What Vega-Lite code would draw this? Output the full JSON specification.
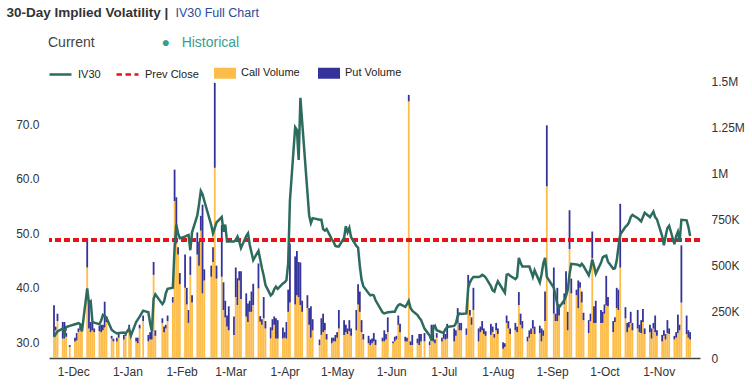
{
  "$schema": "https://vega.github.io/schema/vega-lite/v6.json",
  "width": 651,
  "height": 277,
  "autosize": "none",
  "padding": {"left": 49, "top": 81, "right": 52, "bottom": 28},
  "background": "white",
  "config": {"view": {"stroke": null}, "font": "Liberation Sans"},
  "title": {"text": "Current", "anchor": "start", "dx": 42, "dy": 45, "offset": 0, "font": "Liberation Sans", "fontSize": 14, "fontWeight": "normal", "color": "#444444"},
  "data": {"values": [
    {"d":"2024-11-20","iv":31.0,"Call Volume":115000,"Put Volume":170000},
    {"d":"2024-11-21","iv":31.5,"Call Volume":150000,"Put Volume":20000},
    {"d":"2024-11-22","iv":32.0,"Call Volume":200000,"Put Volume":40000},
    {"d":"2024-11-25","iv":32.5,"Call Volume":105000,"Put Volume":90000},
    {"d":"2024-11-26","iv":31.6,"Call Volume":105000,"Put Volume":90000},
    {"d":"2024-11-27","iv":32.8,"Call Volume":115000,"Put Volume":20000},
    {"d":"2024-11-29","iv":33.0,"Call Volume":60000,"Put Volume":10000},
    {"d":"2024-12-02","iv":33.3,"Call Volume":90000,"Put Volume":20000},
    {"d":"2024-12-03","iv":33.4,"Call Volume":95000,"Put Volume":40000},
    {"d":"2024-12-04","iv":33.5,"Call Volume":140000,"Put Volume":20000},
    {"d":"2024-12-05","iv":33.3,"Call Volume":150000,"Put Volume":25000},
    {"d":"2024-12-06","iv":32.0,"Call Volume":155000,"Put Volume":30000},
    {"d":"2024-12-09","iv":39.9,"Call Volume":490000,"Put Volume":150000},
    {"d":"2024-12-10","iv":37.2,"Call Volume":160000,"Put Volume":150000},
    {"d":"2024-12-11","iv":37.5,"Call Volume":140000,"Put Volume":55000},
    {"d":"2024-12-12","iv":33.7,"Call Volume":150000,"Put Volume":40000},
    {"d":"2024-12-13","iv":33.6,"Call Volume":140000,"Put Volume":20000},
    {"d":"2024-12-16","iv":33.3,"Call Volume":145000,"Put Volume":30000},
    {"d":"2024-12-17","iv":34.0,"Call Volume":140000,"Put Volume":40000},
    {"d":"2024-12-18","iv":35.0,"Call Volume":150000,"Put Volume":30000},
    {"d":"2024-12-19","iv":34.8,"Call Volume":165000,"Put Volume":140000},
    {"d":"2024-12-20","iv":34.5,"Call Volume":195000,"Put Volume":30000},
    {"d":"2024-12-23","iv":32.3,"Call Volume":105000,"Put Volume":15000},
    {"d":"2024-12-24","iv":32.0,"Call Volume":90000,"Put Volume":15000},
    {"d":"2024-12-26","iv":31.6,"Call Volume":90000,"Put Volume":20000},
    {"d":"2024-12-27","iv":31.7,"Call Volume":110000,"Put Volume":30000},
    {"d":"2024-12-30","iv":31.8,"Call Volume":100000,"Put Volume":25000},
    {"d":"2024-12-31","iv":31.6,"Call Volume":120000,"Put Volume":20000},
    {"d":"2025-01-02","iv":32.5,"Call Volume":150000,"Put Volume":30000},
    {"d":"2025-01-03","iv":31.2,"Call Volume":130000,"Put Volume":10000},
    {"d":"2025-01-06","iv":33.7,"Call Volume":90000,"Put Volume":20000},
    {"d":"2025-01-07","iv":34.2,"Call Volume":80000,"Put Volume":30000},
    {"d":"2025-01-08","iv":34.7,"Call Volume":160000,"Put Volume":20000},
    {"d":"2025-01-10","iv":35.8,"Call Volume":200000,"Put Volume":30000},
    {"d":"2025-01-13","iv":35.5,"Call Volume":90000,"Put Volume":35000},
    {"d":"2025-01-14","iv":33.5,"Call Volume":100000,"Put Volume":40000},
    {"d":"2025-01-15","iv":32.0,"Call Volume":100000,"Put Volume":80000},
    {"d":"2025-01-16","iv":38.0,"Call Volume":450000,"Put Volume":70000},
    {"d":"2025-01-17","iv":38.8,"Call Volume":120000,"Put Volume":30000},
    {"d":"2025-01-21","iv":37.0,"Call Volume":190000,"Put Volume":25000},
    {"d":"2025-01-22","iv":37.5,"Call Volume":140000,"Put Volume":30000},
    {"d":"2025-01-23","iv":39.0,"Call Volume":160000,"Put Volume":20000},
    {"d":"2025-01-24","iv":39.8,"Call Volume":200000,"Put Volume":30000},
    {"d":"2025-01-27","iv":40.0,"Call Volume":300000,"Put Volume":30000},
    {"d":"2025-01-28","iv":47.3,"Call Volume":850000,"Put Volume":170000},
    {"d":"2025-01-29","iv":51.6,"Call Volume":620000,"Put Volume":250000},
    {"d":"2025-01-30","iv":50.0,"Call Volume":560000,"Put Volume":40000},
    {"d":"2025-01-31","iv":49.1,"Call Volume":400000,"Put Volume":60000},
    {"d":"2025-02-03","iv":49.4,"Call Volume":380000,"Put Volume":180000},
    {"d":"2025-02-04","iv":49.6,"Call Volume":290000,"Put Volume":90000},
    {"d":"2025-02-05","iv":49.7,"Call Volume":190000,"Put Volume":70000},
    {"d":"2025-02-06","iv":46.9,"Call Volume":450000,"Put Volume":100000},
    {"d":"2025-02-07","iv":50.2,"Call Volume":300000,"Put Volume":40000},
    {"d":"2025-02-10","iv":53.3,"Call Volume":560000,"Put Volume":120000},
    {"d":"2025-02-11","iv":55.4,"Call Volume":500000,"Put Volume":130000},
    {"d":"2025-02-12","iv":57.8,"Call Volume":690000,"Put Volume":80000},
    {"d":"2025-02-13","iv":57.2,"Call Volume":350000,"Put Volume":480000},
    {"d":"2025-02-14","iv":56.0,"Call Volume":420000,"Put Volume":60000},
    {"d":"2025-02-18","iv":51.5,"Call Volume":440000,"Put Volume":60000},
    {"d":"2025-02-19","iv":50.0,"Call Volume":520000,"Put Volume":80000},
    {"d":"2025-02-20","iv":51.0,"Call Volume":1030000,"Put Volume":460000},
    {"d":"2025-02-21","iv":52.0,"Call Volume":430000,"Put Volume":70000},
    {"d":"2025-02-24","iv":53.0,"Call Volume":440000,"Put Volume":280000},
    {"d":"2025-02-25","iv":50.3,"Call Volume":260000,"Put Volume":150000},
    {"d":"2025-02-26","iv":51.6,"Call Volume":220000,"Put Volume":90000},
    {"d":"2025-02-27","iv":48.5,"Call Volume":170000,"Put Volume":60000},
    {"d":"2025-02-28","iv":48.5,"Call Volume":150000,"Put Volume":130000},
    {"d":"2025-03-03","iv":48.5,"Call Volume":125000,"Put Volume":100000},
    {"d":"2025-03-04","iv":48.8,"Call Volume":330000,"Put Volume":160000},
    {"d":"2025-03-05","iv":49.4,"Call Volume":287000,"Put Volume":145000},
    {"d":"2025-03-06","iv":48.5,"Call Volume":420000,"Put Volume":50000},
    {"d":"2025-03-07","iv":47.3,"Call Volume":320000,"Put Volume":150000},
    {"d":"2025-03-10","iv":49.5,"Call Volume":224000,"Put Volume":126000},
    {"d":"2025-03-11","iv":50.0,"Call Volume":195000,"Put Volume":100000},
    {"d":"2025-03-12","iv":47.9,"Call Volume":250000,"Put Volume":60000},
    {"d":"2025-03-13","iv":46.5,"Call Volume":250000,"Put Volume":110000},
    {"d":"2025-03-14","iv":45.1,"Call Volume":287000,"Put Volume":115000},
    {"d":"2025-03-17","iv":46.8,"Call Volume":377000,"Put Volume":135000},
    {"d":"2025-03-18","iv":45.2,"Call Volume":197000,"Put Volume":30000},
    {"d":"2025-03-19","iv":43.6,"Call Volume":180000,"Put Volume":30000},
    {"d":"2025-03-20","iv":42.2,"Call Volume":215000,"Put Volume":115000},
    {"d":"2025-03-21","iv":40.5,"Call Volume":160000,"Put Volume":40000},
    {"d":"2025-03-24","iv":38.6,"Call Volume":106000,"Put Volume":60000},
    {"d":"2025-03-25","iv":38.9,"Call Volume":150000,"Put Volume":60000},
    {"d":"2025-03-26","iv":39.7,"Call Volume":180000,"Put Volume":45000},
    {"d":"2025-03-27","iv":40.2,"Call Volume":105000,"Put Volume":110000},
    {"d":"2025-03-28","iv":39.8,"Call Volume":105000,"Put Volume":100000},
    {"d":"2025-03-31","iv":40.8,"Call Volume":105000,"Put Volume":60000},
    {"d":"2025-04-01","iv":41.0,"Call Volume":110000,"Put Volume":30000},
    {"d":"2025-04-02","iv":41.4,"Call Volume":105000,"Put Volume":90000},
    {"d":"2025-04-03","iv":44.5,"Call Volume":250000,"Put Volume":120000},
    {"d":"2025-04-04","iv":56.0,"Call Volume":300000,"Put Volume":320000},
    {"d":"2025-04-07","iv":69.5,"Call Volume":290000,"Put Volume":260000},
    {"d":"2025-04-08","iv":69.0,"Call Volume":340000,"Put Volume":240000},
    {"d":"2025-04-09","iv":63.5,"Call Volume":330000,"Put Volume":190000},
    {"d":"2025-04-10","iv":74.9,"Call Volume":287000,"Put Volume":230000},
    {"d":"2025-04-11","iv":70.5,"Call Volume":250000,"Put Volume":60000},
    {"d":"2025-04-14","iv":57.6,"Call Volume":270000,"Put Volume":70000},
    {"d":"2025-04-15","iv":53.3,"Call Volume":180000,"Put Volume":90000},
    {"d":"2025-04-16","iv":51.9,"Call Volume":110000,"Put Volume":170000},
    {"d":"2025-04-17","iv":52.8,"Call Volume":150000,"Put Volume":60000},
    {"d":"2025-04-21","iv":52.5,"Call Volume":70000,"Put Volume":30000},
    {"d":"2025-04-22","iv":52.5,"Call Volume":125000,"Put Volume":90000},
    {"d":"2025-04-23","iv":50.8,"Call Volume":140000,"Put Volume":100000},
    {"d":"2025-04-24","iv":50.5,"Call Volume":150000,"Put Volume":40000},
    {"d":"2025-04-25","iv":50.8,"Call Volume":100000,"Put Volume":30000},
    {"d":"2025-04-28","iv":48.9,"Call Volume":80000,"Put Volume":30000},
    {"d":"2025-04-29","iv":48.4,"Call Volume":90000,"Put Volume":20000},
    {"d":"2025-04-30","iv":47.7,"Call Volume":90000,"Put Volume":35000},
    {"d":"2025-05-01","iv":47.6,"Call Volume":110000,"Put Volume":30000},
    {"d":"2025-05-02","iv":47.6,"Call Volume":160000,"Put Volume":100000},
    {"d":"2025-05-05","iv":49.2,"Call Volume":125000,"Put Volume":80000},
    {"d":"2025-05-06","iv":51.3,"Call Volume":140000,"Put Volume":40000},
    {"d":"2025-05-07","iv":50.2,"Call Volume":130000,"Put Volume":30000},
    {"d":"2025-05-08","iv":51.0,"Call Volume":145000,"Put Volume":60000},
    {"d":"2025-05-09","iv":49.3,"Call Volume":120000,"Put Volume":40000},
    {"d":"2025-05-12","iv":47.7,"Call Volume":150000,"Put Volume":110000},
    {"d":"2025-05-13","iv":47.4,"Call Volume":290000,"Put Volume":110000},
    {"d":"2025-05-14","iv":44.0,"Call Volume":250000,"Put Volume":110000},
    {"d":"2025-05-15","iv":41.5,"Call Volume":140000,"Put Volume":65000},
    {"d":"2025-05-16","iv":40.3,"Call Volume":100000,"Put Volume":30000},
    {"d":"2025-05-19","iv":39.0,"Call Volume":80000,"Put Volume":40000},
    {"d":"2025-05-20","iv":38.6,"Call Volume":70000,"Put Volume":30000},
    {"d":"2025-05-21","iv":38.7,"Call Volume":80000,"Put Volume":25000},
    {"d":"2025-05-22","iv":38.6,"Call Volume":90000,"Put Volume":45000},
    {"d":"2025-05-23","iv":37.7,"Call Volume":70000,"Put Volume":30000},
    {"d":"2025-05-27","iv":35.5,"Call Volume":90000,"Put Volume":20000},
    {"d":"2025-05-28","iv":35.3,"Call Volume":90000,"Put Volume":60000},
    {"d":"2025-05-29","iv":35.4,"Call Volume":100000,"Put Volume":30000},
    {"d":"2025-05-30","iv":35.5,"Call Volume":140000,"Put Volume":80000},
    {"d":"2025-06-02","iv":35.6,"Call Volume":80000,"Put Volume":10000},
    {"d":"2025-06-03","iv":35.6,"Call Volume":90000,"Put Volume":25000},
    {"d":"2025-06-04","iv":36.3,"Call Volume":100000,"Put Volume":20000},
    {"d":"2025-06-05","iv":36.8,"Call Volume":180000,"Put Volume":50000},
    {"d":"2025-06-06","iv":37.0,"Call Volume":140000,"Put Volume":45000},
    {"d":"2025-06-09","iv":36.5,"Call Volume":90000,"Put Volume":25000},
    {"d":"2025-06-10","iv":37.0,"Call Volume":90000,"Put Volume":20000},
    {"d":"2025-06-11","iv":37.6,"Call Volume":1390000,"Put Volume":35000},
    {"d":"2025-06-12","iv":36.3,"Call Volume":70000,"Put Volume":20000},
    {"d":"2025-06-13","iv":35.8,"Call Volume":70000,"Put Volume":55000},
    {"d":"2025-06-16","iv":35.0,"Call Volume":80000,"Put Volume":25000},
    {"d":"2025-06-17","iv":34.5,"Call Volume":70000,"Put Volume":60000},
    {"d":"2025-06-18","iv":34.1,"Call Volume":90000,"Put Volume":40000},
    {"d":"2025-06-20","iv":32.5,"Call Volume":90000,"Put Volume":45000},
    {"d":"2025-06-23","iv":31.2,"Call Volume":70000,"Put Volume":20000},
    {"d":"2025-06-24","iv":30.3,"Call Volume":100000,"Put Volume":80000},
    {"d":"2025-06-25","iv":32.5,"Call Volume":90000,"Put Volume":90000},
    {"d":"2025-06-26","iv":33.0,"Call Volume":80000,"Put Volume":20000},
    {"d":"2025-06-27","iv":32.2,"Call Volume":110000,"Put Volume":25000},
    {"d":"2025-06-30","iv":31.8,"Call Volume":90000,"Put Volume":20000},
    {"d":"2025-07-01","iv":31.8,"Call Volume":105000,"Put Volume":30000},
    {"d":"2025-07-02","iv":32.4,"Call Volume":100000,"Put Volume":30000},
    {"d":"2025-07-03","iv":32.8,"Call Volume":105000,"Put Volume":80000},
    {"d":"2025-07-07","iv":33.0,"Call Volume":90000,"Put Volume":70000},
    {"d":"2025-07-08","iv":33.5,"Call Volume":120000,"Put Volume":30000},
    {"d":"2025-07-09","iv":34.8,"Call Volume":190000,"Put Volume":80000},
    {"d":"2025-07-10","iv":35.3,"Call Volume":150000,"Put Volume":40000},
    {"d":"2025-07-11","iv":35.2,"Call Volume":150000,"Put Volume":40000},
    {"d":"2025-07-14","iv":35.3,"Call Volume":125000,"Put Volume":35000},
    {"d":"2025-07-15","iv":40.0,"Call Volume":350000,"Put Volume":100000},
    {"d":"2025-07-16","iv":41.0,"Call Volume":230000,"Put Volume":30000},
    {"d":"2025-07-17","iv":41.6,"Call Volume":180000,"Put Volume":40000},
    {"d":"2025-07-18","iv":42.0,"Call Volume":260000,"Put Volume":120000},
    {"d":"2025-07-21","iv":42.0,"Call Volume":90000,"Put Volume":70000},
    {"d":"2025-07-22","iv":42.1,"Call Volume":140000,"Put Volume":30000},
    {"d":"2025-07-23","iv":42.4,"Call Volume":150000,"Put Volume":50000},
    {"d":"2025-07-24","iv":42.2,"Call Volume":130000,"Put Volume":30000},
    {"d":"2025-07-25","iv":41.9,"Call Volume":120000,"Put Volume":25000},
    {"d":"2025-07-28","iv":40.3,"Call Volume":125000,"Put Volume":60000},
    {"d":"2025-07-29","iv":39.5,"Call Volume":140000,"Put Volume":30000},
    {"d":"2025-07-30","iv":39.3,"Call Volume":110000,"Put Volume":20000},
    {"d":"2025-07-31","iv":40.4,"Call Volume":150000,"Put Volume":40000},
    {"d":"2025-08-01","iv":41.2,"Call Volume":130000,"Put Volume":30000},
    {"d":"2025-08-04","iv":39.6,"Call Volume":50000,"Put Volume":35000},
    {"d":"2025-08-05","iv":39.1,"Call Volume":60000,"Put Volume":20000},
    {"d":"2025-08-06","iv":42.4,"Call Volume":190000,"Put Volume":40000},
    {"d":"2025-08-07","iv":42.5,"Call Volume":160000,"Put Volume":40000},
    {"d":"2025-08-08","iv":42.2,"Call Volume":130000,"Put Volume":30000},
    {"d":"2025-08-11","iv":41.6,"Call Volume":150000,"Put Volume":40000},
    {"d":"2025-08-12","iv":42.0,"Call Volume":140000,"Put Volume":30000},
    {"d":"2025-08-13","iv":45.5,"Call Volume":287000,"Put Volume":70000},
    {"d":"2025-08-14","iv":44.6,"Call Volume":180000,"Put Volume":60000},
    {"d":"2025-08-15","iv":43.9,"Call Volume":160000,"Put Volume":40000},
    {"d":"2025-08-18","iv":43.9,"Call Volume":90000,"Put Volume":25000},
    {"d":"2025-08-19","iv":43.9,"Call Volume":110000,"Put Volume":40000},
    {"d":"2025-08-20","iv":43.0,"Call Volume":130000,"Put Volume":30000},
    {"d":"2025-08-21","iv":42.0,"Call Volume":160000,"Put Volume":45000},
    {"d":"2025-08-22","iv":43.2,"Call Volume":130000,"Put Volume":40000},
    {"d":"2025-08-25","iv":41.0,"Call Volume":135000,"Put Volume":40000},
    {"d":"2025-08-26","iv":42.5,"Call Volume":90000,"Put Volume":70000},
    {"d":"2025-08-27","iv":44.5,"Call Volume":120000,"Put Volume":30000},
    {"d":"2025-08-28","iv":45.5,"Call Volume":200000,"Put Volume":160000},
    {"d":"2025-08-29","iv":42.0,"Call Volume":930000,"Put Volume":330000},
    {"d":"2025-09-02","iv":40.0,"Call Volume":240000,"Put Volume":250000},
    {"d":"2025-09-03","iv":38.5,"Call Volume":200000,"Put Volume":40000},
    {"d":"2025-09-04","iv":37.0,"Call Volume":200000,"Put Volume":180000},
    {"d":"2025-09-05","iv":36.4,"Call Volume":230000,"Put Volume":60000},
    {"d":"2025-09-08","iv":37.7,"Call Volume":290000,"Put Volume":60000},
    {"d":"2025-09-09","iv":38.5,"Call Volume":340000,"Put Volume":130000},
    {"d":"2025-09-10","iv":39.7,"Call Volume":150000,"Put Volume":100000},
    {"d":"2025-09-11","iv":42.5,"Call Volume":590000,"Put Volume":210000},
    {"d":"2025-09-12","iv":44.4,"Call Volume":350000,"Put Volume":80000},
    {"d":"2025-09-15","iv":44.3,"Call Volume":340000,"Put Volume":30000},
    {"d":"2025-09-16","iv":44.2,"Call Volume":270000,"Put Volume":150000},
    {"d":"2025-09-17","iv":44.0,"Call Volume":380000,"Put Volume":30000},
    {"d":"2025-09-18","iv":44.4,"Call Volume":300000,"Put Volume":60000},
    {"d":"2025-09-19","iv":44.0,"Call Volume":205000,"Put Volume":40000},
    {"d":"2025-09-22","iv":42.3,"Call Volume":135000,"Put Volume":70000},
    {"d":"2025-09-23","iv":43.5,"Call Volume":200000,"Put Volume":40000},
    {"d":"2025-09-24","iv":45.2,"Call Volume":540000,"Put Volume":145000},
    {"d":"2025-09-25","iv":44.0,"Call Volume":190000,"Put Volume":90000},
    {"d":"2025-09-26","iv":42.6,"Call Volume":190000,"Put Volume":120000},
    {"d":"2025-09-29","iv":44.6,"Call Volume":190000,"Put Volume":70000},
    {"d":"2025-09-30","iv":45.6,"Call Volume":190000,"Put Volume":60000},
    {"d":"2025-10-01","iv":45.8,"Call Volume":240000,"Put Volume":50000},
    {"d":"2025-10-02","iv":45.9,"Call Volume":285000,"Put Volume":160000},
    {"d":"2025-10-03","iv":44.8,"Call Volume":280000,"Put Volume":50000},
    {"d":"2025-10-06","iv":43.5,"Call Volume":140000,"Put Volume":60000},
    {"d":"2025-10-07","iv":43.6,"Call Volume":195000,"Put Volume":25000},
    {"d":"2025-10-08","iv":45.0,"Call Volume":270000,"Put Volume":110000},
    {"d":"2025-10-09","iv":47.5,"Call Volume":260000,"Put Volume":110000},
    {"d":"2025-10-10","iv":49.8,"Call Volume":490000,"Put Volume":345000},
    {"d":"2025-10-13","iv":51.2,"Call Volume":215000,"Put Volume":60000},
    {"d":"2025-10-14","iv":51.5,"Call Volume":140000,"Put Volume":50000},
    {"d":"2025-10-15","iv":52.0,"Call Volume":165000,"Put Volume":30000},
    {"d":"2025-10-16","iv":53.0,"Call Volume":190000,"Put Volume":60000},
    {"d":"2025-10-17","iv":53.4,"Call Volume":150000,"Put Volume":40000},
    {"d":"2025-10-20","iv":52.8,"Call Volume":160000,"Put Volume":100000},
    {"d":"2025-10-21","iv":52.5,"Call Volume":140000,"Put Volume":40000},
    {"d":"2025-10-22","iv":52.2,"Call Volume":135000,"Put Volume":70000},
    {"d":"2025-10-23","iv":53.0,"Call Volume":195000,"Put Volume":70000},
    {"d":"2025-10-24","iv":53.8,"Call Volume":130000,"Put Volume":30000},
    {"d":"2025-10-27","iv":53.0,"Call Volume":140000,"Put Volume":40000},
    {"d":"2025-10-28","iv":53.5,"Call Volume":105000,"Put Volume":55000},
    {"d":"2025-10-29","iv":54.0,"Call Volume":160000,"Put Volume":30000},
    {"d":"2025-10-30","iv":53.0,"Call Volume":140000,"Put Volume":90000},
    {"d":"2025-10-31","iv":52.6,"Call Volume":120000,"Put Volume":30000},
    {"d":"2025-11-03","iv":49.5,"Call Volume":90000,"Put Volume":35000},
    {"d":"2025-11-04","iv":47.8,"Call Volume":120000,"Put Volume":30000},
    {"d":"2025-11-05","iv":49.5,"Call Volume":100000,"Put Volume":30000},
    {"d":"2025-11-06","iv":51.0,"Call Volume":135000,"Put Volume":70000},
    {"d":"2025-11-07","iv":51.4,"Call Volume":130000,"Put Volume":30000},
    {"d":"2025-11-10","iv":48.0,"Call Volume":100000,"Put Volume":20000},
    {"d":"2025-11-11","iv":49.5,"Call Volume":110000,"Put Volume":30000},
    {"d":"2025-11-12","iv":50.3,"Call Volume":135000,"Put Volume":100000},
    {"d":"2025-11-13","iv":48.5,"Call Volume":150000,"Put Volume":30000},
    {"d":"2025-11-14","iv":52.5,"Call Volume":300000,"Put Volume":310000},
    {"d":"2025-11-17","iv":52.4,"Call Volume":130000,"Put Volume":100000},
    {"d":"2025-11-18","iv":51.2,"Call Volume":110000,"Put Volume":40000},
    {"d":"2025-11-19","iv":49.5,"Call Volume":100000,"Put Volume":40000}
  ]},
  "layer": [
    {
      "transform": [{"fold": ["Call Volume", "Put Volume"]}],
      "mark": {"type": "bar", "width": 1.8},
      "encoding": {
        "x": {
          "field": "d", "type": "temporal",
          "scale": {"type": "utc", "domain": [{"year": 2024, "month": 11, "date": 20, "utc": true}, {"year": 2025, "month": 11, "date": 21, "hours": 19, "utc": true}]},
          "axis": {
            "values": [
              {"year": 2024, "month": 12, "date": 1, "utc": true},
              {"year": 2025, "month": 1, "date": 1, "utc": true},
              {"year": 2025, "month": 2, "date": 1, "utc": true},
              {"year": 2025, "month": 3, "date": 1, "utc": true},
              {"year": 2025, "month": 4, "date": 1, "utc": true},
              {"year": 2025, "month": 5, "date": 1, "utc": true},
              {"year": 2025, "month": 6, "date": 1, "utc": true},
              {"year": 2025, "month": 7, "date": 1, "utc": true},
              {"year": 2025, "month": 8, "date": 1, "utc": true},
              {"year": 2025, "month": 9, "date": 1, "utc": true},
              {"year": 2025, "month": 10, "date": 1, "utc": true},
              {"year": 2025, "month": 11, "date": 1, "utc": true}
            ],
            "format": "%-d-%b",
            "labelFont": "Liberation Sans", "labelFontSize": 12, "labelColor": "#333333",
            "ticks": false, "grid": false, "domainColor": "#444444", "domainWidth": 1.5,
            "labelPadding": 8, "labelFlush": false, "labelOverlap": false,
            "title": "●\u00a0\u00a0\u00a0Historical",
            "titleAlign": "left", "titleBaseline": "middle", "titleAngle": 0,
            "titleX": 112, "titleY": -316,
            "titleFont": "Liberation Sans", "titleFontSize": 14, "titleFontWeight": "normal", "titleColor": "#3a9e8f"
          }
        },
        "y": {
          "field": "value", "type": "quantitative", "stack": "zero",
          "scale": {"domain": [0, 1500000], "nice": false},
          "axis": {
            "orient": "right",
            "values": [0, 250000, 500000, 750000, 1000000, 1250000, 1500000],
            "labelExpr": "datum.value == 0 ? '0' : replace(format(datum.value, '~s'), 'k', 'K')",
            "domain": false, "ticks": false, "grid": false, "labelPadding": 11,
            "labelFont": "Liberation Sans", "labelFontSize": 12, "labelColor": "#333333",
            "title": "IV30 Full Chart", "titleAngle": 0, "titleAlign": "left", "titleBaseline": "middle",
            "titleX": -525, "titleY": -69,
            "titleFont": "Liberation Sans", "titleFontSize": 12.5, "titleFontWeight": "normal", "titleColor": "#2b4b9b"
          }
        },
        "fill": {
          "field": "key", "type": "nominal",
          "scale": {"domain": ["Call Volume", "Put Volume"], "range": ["#fdbd4a", "#34339a"]},
          "legend": {
            "orient": "none", "legendX": 165, "legendY": -19, "direction": "horizontal",
            "title": null, "padding": 0, "columnPadding": 18, "labelOffset": 5,
            "symbolSize": 484, "symbolType": "M-1,-0.5H1V0.5H-1Z", "symbolStrokeWidth": 0,
            "labelFont": "Liberation Sans", "labelFontSize": 11, "labelColor": "#222222"
          }
        },
        "order": {"field": "key", "sort": "ascending"}
      }
    },
    {
      "layer": [
        {
          "mark": {"type": "rule", "color": "#e3141b", "strokeWidth": 2.5},
          "encoding": {
            "y": {"datum": 48.8, "type": "quantitative"},
            "strokeDash": {
              "datum": "Prev Close", "type": "nominal",
              "scale": {"domain": ["Prev Close"], "range": [[5.5, 3.5]]},
              "legend": {
                "orient": "none", "legendX": 66, "legendY": -19, "direction": "horizontal",
                "title": null, "padding": 0, "labelOffset": 5,
                "symbolSize": 484, "symbolType": "M-1,0H1", "symbolStrokeColor": "#e3141b", "symbolStrokeWidth": 2.5,
                "labelFont": "Liberation Sans", "labelFontSize": 11, "labelColor": "#222222"
              }
            }
          }
        },
        {
          "mark": {"type": "line", "strokeWidth": 2.5},
          "encoding": {
            "x": {"field": "d", "type": "temporal"},
            "y": {
              "field": "iv", "type": "quantitative",
              "scale": {"domain": [27.1, 78.0], "nice": false, "zero": false},
              "axis": {
                "orient": "left", "values": [30, 40, 50, 60, 70], "format": ".1f",
                "domain": false, "ticks": false, "grid": false, "labelPadding": 10,
                "labelFont": "Liberation Sans", "labelFontSize": 12, "labelColor": "#333333",
                "title": "30-Day Implied Volatility |", "titleAngle": 0, "titleAlign": "left", "titleBaseline": "middle",
                "titleX": -43, "titleY": -69,
                "titleFont": "Liberation Sans", "titleFontSize": 13.5, "titleFontWeight": "bold", "titleColor": "#333333"
              }
            },
            "stroke": {
              "datum": "IV30", "type": "nominal",
              "scale": {"domain": ["IV30"], "range": ["#2d6b5e"]},
              "legend": {
                "orient": "none", "legendX": -1, "legendY": -19, "direction": "horizontal",
                "title": null, "padding": 0, "labelOffset": 5,
                "symbolSize": 484, "symbolType": "M-1,0H1", "symbolStrokeWidth": 2.5,
                "labelFont": "Liberation Sans", "labelFontSize": 11, "labelColor": "#222222"
              }
            }
          }
        }
      ]
    }
  ],
  "resolve": {"scale": {"y": "independent"}}
}
